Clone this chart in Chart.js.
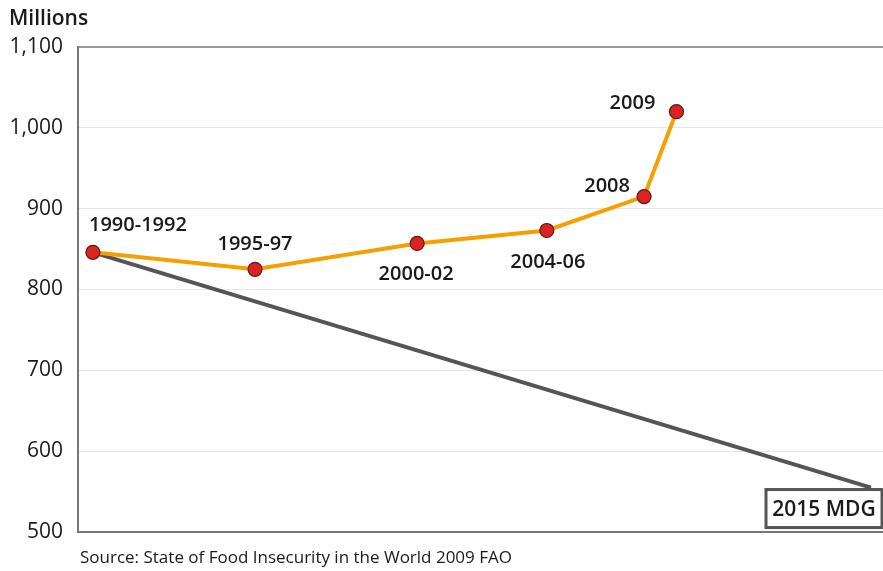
<!DOCTYPE html>
<html>
<head>
<meta charset="utf-8">
<script src="https://cdn.jsdelivr.net/npm/chart.js@4/dist/chart.umd.min.js"></script>
<style>
    html, body { margin: 0; padding: 0; background: #fff; }
    #chartWrapper { width: 883px; height: 571px; }
</style>
</head>
<body>
<div id="chartWrapper"><canvas id="chart" width="883" height="571"></canvas></div>
<script>
'use strict';

// Data
const periodLabels = ['1990-1992', '1995-97', '2000-02', '2004-06', '2008', '2009'];
const periodYears = [1991, 1996, 2001, 2005, 2008, 2009];
const hungryMillions = [846, 825, 857, 873, 915, 1020];
const targetYears = [1991, 2015];
const targetMillions = [846, 555];
const targetLabel = '2015 MDG';
const yTicks = [500, 600, 700, 800, 900, 1000, 1100];
const sourceText = 'Source: State of Food Insecurity in the World 2009 FAO';

// Where each period label sits relative to its point (px)
const labelOffsets = [
    [45, -27],
    [0, -25],
    [-1, 31],
    [1, 32],
    [-37, -10],
    [-44, -8],
];

const fontFamily = '"Open Sans", "Noto Sans", sans-serif';

const formatThousands = function (value) {
    return value.toString().replace(/\B(?=(\d{3})+(?!\d))/g, ',');
};

const annotationsPlugin = {
    id: 'annotations',
    afterDatasetsDraw(chart) {
        const ctx = chart.ctx;
        const xScale = chart.scales.x;
        const yScale = chart.scales.y;
        const area = chart.chartArea;

        ctx.save();
        ctx.fillStyle = '#1a1a1a';
        ctx.textAlign = 'center';
        ctx.textBaseline = 'middle';
        ctx.font = `600 20px ${fontFamily}`;
        periodLabels.forEach((label, i) => {
            const px = xScale.getPixelForValue(periodYears[i]);
            const py = yScale.getPixelForValue(hungryMillions[i]);
            ctx.fillText(label, px + labelOffsets[i][0], py + labelOffsets[i][1]);
        });

        // 2015 MDG box under the end of the target line
        const endX = xScale.getPixelForValue(targetYears[1]);
        const endY = yScale.getPixelForValue(targetMillions[1]);
        ctx.font = `600 21px ${fontFamily}`;
        const boxW = 116;
        const boxH = 38;
        const boxX = endX + 11 - boxW;
        const boxY = endY + 2;
        ctx.fillStyle = '#fff';
        ctx.fillRect(boxX, boxY, boxW, boxH);
        ctx.lineWidth = 3;
        ctx.strokeStyle = '#555';
        ctx.strokeRect(boxX, boxY, boxW, boxH);
        ctx.fillStyle = '#1a1a1a';
        ctx.fillText(targetLabel, boxX + boxW / 2, boxY + boxH / 2 + 1);

        // Unit label and source
        ctx.textAlign = 'left';
        ctx.font = `600 21px ${fontFamily}`;
        ctx.fillText('Millions', 9, 19);
        ctx.font = `17px ${fontFamily}`;
        ctx.fillText(sourceText, area.left + 2, 558);
        ctx.restore();
    },
};

const buildChart = function () {
    new Chart(document.getElementById('chart'), {
        type: 'line',
        data: {
            datasets: [
                {
                    label: 'Target',
                    data: targetYears.map((x, i) => ({ x: x, y: targetMillions[i] })),
                    borderColor: '#555555',
                    borderWidth: 4,
                    pointRadius: 0,
                    tension: 0,
                    order: 2,
                },
                {
                    label: 'Undernourished',
                    data: periodYears.map((x, i) => ({ x: x, y: hungryMillions[i] })),
                    borderColor: '#f5a000',
                    borderWidth: 4,
                    pointRadius: 7,
                    pointBackgroundColor: '#dd2222',
                    pointBorderColor: '#5a1a1a',
                    pointBorderWidth: 1.2,
                    tension: 0,
                    order: 1,
                },
            ],
        },
        options: {
            responsive: false,
            animation: false,
            layout: {
                autoPadding: false,
                padding: { left: 0, right: 0, top: 47, bottom: 39 },
            },
            plugins: {
                legend: { display: false },
                tooltip: { enabled: false },
            },
            scales: {
                x: {
                    type: 'linear',
                    display: false,
                    min: 1990.54,
                    max: 2015.37,
                },
                y: {
                    min: 500,
                    max: 1100,
                    afterBuildTicks: function (scale) {
                        scale.ticks = yTicks.map((v) => ({ value: v }));
                    },
                    afterFit: function (scale) {
                        scale.width = 78;
                    },
                    border: { display: true, color: '#777', width: 2 },
                    grid: {
                        drawTicks: false,
                        color: function (context) {
                            const v = context.tick && context.tick.value;
                            if (v === 500) return '#777';
                            if (v === 1100) return '#999';
                            return '#e6e6e6';
                        },
                        lineWidth: function (context) {
                            const v = context.tick && context.tick.value;
                            return v === 500 || v === 1100 ? 2 : 1;
                        },
                    },
                    ticks: {
                        padding: 15,
                        color: '#1a1a1a',
                        font: { family: fontFamily, size: 21 },
                        callback: function (value) {
                            return formatThousands(value);
                        },
                    },
                },
            },
        },
        plugins: [annotationsPlugin],
    });
};

buildChart();
</script>
</body>
</html>
